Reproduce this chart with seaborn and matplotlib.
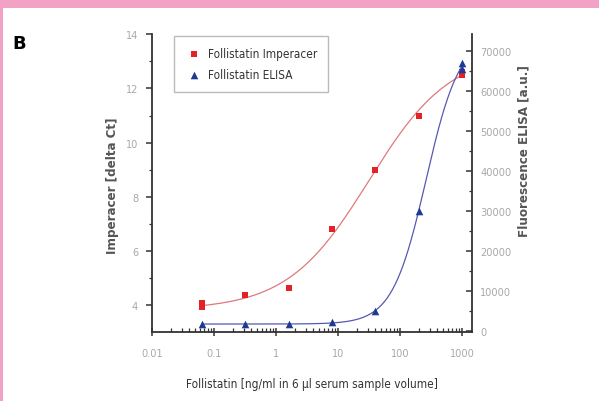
import numpy as np
import pandas as pd
import matplotlib
matplotlib.use("Agg")
import matplotlib.pyplot as plt
from matplotlib.patches import Rectangle
from matplotlib.ticker import FixedLocator, NullFormatter, LogLocator
import seaborn as sns

# ---- data ----
imp_conc = [0.064, 0.064, 0.32, 1.6, 8, 40, 200, 1000, 1000]
imp_delta_ct = [4.1, 3.95, 4.37, 4.62, 6.83, 9.0, 11.0, 12.6, 12.5]
elisa_conc = [0.064, 0.32, 1.6, 8, 40, 200, 1000, 1000]
elisa_fluor = [1700, 1650, 1750, 2300, 5000, 30000, 65500, 67000]
x_ticks = [0.01, 0.1, 1, 10, 100, 1000]
x_tick_labels = ["0.01", "0.1", "1", "10", "100", "1000"]
left_ticks = [4, 6, 8, 10, 12, 14]
right_ticks = [0, 10000, 20000, 30000, 40000, 50000, 60000, 70000]

sns.set_theme(style="white")
plt.rcParams['font.family'] = ['DejaVu Sans']
plt.rcParams['font.stretch'] = 'condensed'


def fit_4pl(x, y):
    """Least-squares four-parameter logistic fit (grid search + linear solve)."""
    x = np.asarray(x, float)
    y = np.asarray(y, float)
    best = None
    for lc in np.linspace(-1, 4, 251):
        for h in np.linspace(0.3, 4, 186):
            s = 1.0 / (1.0 + (10 ** lc / x) ** h)
            A = np.column_stack([1 - s, s])
            coef, *_ = np.linalg.lstsq(A, y, rcond=None)
            r = np.sum((A @ coef - y) ** 2)
            if best is None or r < best[0]:
                best = (r, lc, h, coef)
    _, lc, h, coef = best

    def f(xx):
        s = 1.0 / (1.0 + (10 ** lc / xx) ** h)
        return coef[0] * (1 - s) + coef[1] * s
    return f


xs = np.logspace(np.log10(0.064), np.log10(1000), 300)
f_imp = fit_4pl(imp_conc, imp_delta_ct)
f_eli = fit_4pl(elisa_conc, elisa_fluor)
curve_imp = pd.DataFrame({"x": xs, "y": f_imp(xs)})
curve_eli = pd.DataFrame({"x": xs, "y": f_eli(xs)})
df_imp = pd.DataFrame({"x": imp_conc, "y": imp_delta_ct})
df_eli = pd.DataFrame({"x": elisa_conc, "y": elisa_fluor})

fig = plt.figure(figsize=(5.99, 4.02), dpi=100)
fig.patch.set_facecolor("white")
pink = "#f2a2c4"
fig.add_artist(Rectangle((0, 1 - 9 / 402), 1, 9 / 402, transform=fig.transFigure,
                         facecolor=pink, edgecolor="none"))
fig.add_artist(Rectangle((0, 0), 3 / 599, 1, transform=fig.transFigure,
                         facecolor=pink, edgecolor="none"))
fig.text(12 / 599, 1 - 44 / 402, "B", fontsize=13, fontweight="bold",
         family="DejaVu Sans", stretch="normal", color="black", va="center", ha="left")

ax = fig.add_axes([152 / 599, 1 - 333.3 / 402, 320 / 599, 298 / 402])
ax2 = ax.twinx()

red = "#e32228"
blue = "#1f3a93"
sns.lineplot(data=curve_imp, x="x", y="y", ax=ax, color="#e0787c", lw=0.9, zorder=2)
sns.scatterplot(data=df_imp, x="x", y="y", ax=ax, marker="s", s=22, color=red,
                edgecolor=red, linewidth=0, zorder=3, label="Follistatin Imperacer")
sns.lineplot(data=curve_eli, x="x", y="y", ax=ax2, color="#5858b0", lw=0.9, zorder=2)
sns.scatterplot(data=df_eli, x="x", y="y", ax=ax2, marker="^", s=30, color=blue,
                edgecolor=blue, linewidth=0, zorder=3, label="Follistatin ELISA")

ax.set_xscale("log")
ax.set_xlim(0.01, 10 ** (3 + 10 / 62))
ax.set_ylim(3, 14)
ax2.set_ylim(-320, 74200)

tick_col = "#a8a8a8"
lab_col = "#555555"
ax.set_xticks(x_ticks)
ax.set_xticklabels(x_tick_labels)
ax.xaxis.set_minor_locator(LogLocator(base=10, subs=np.arange(2, 10)))
ax.xaxis.set_minor_formatter(NullFormatter())
ax.set_yticks(left_ticks)
ax.set_yticklabels([str(v) for v in left_ticks])
ax.yaxis.set_minor_locator(FixedLocator([5, 7, 9, 11, 13]))
ax2.set_yticks(right_ticks)
ax2.set_yticklabels([str(v) for v in right_ticks])
ax2.yaxis.set_minor_locator(FixedLocator(np.arange(5000, 75000, 10000)))

for a in (ax, ax2):
    for s in a.spines.values():
        s.set_color("#333333")
        s.set_linewidth(1.3)
    a.spines["top"].set_visible(False)
ax.spines["right"].set_visible(False)
ax2.spines["left"].set_visible(False)
ax2.spines["bottom"].set_visible(False)

ax.tick_params(axis="x", which="major", direction="inout", length=6, width=1.1,
               color="#333333", labelcolor=tick_col, labelsize=7.8, pad=8, bottom=True)
ax.tick_params(axis="x", which="minor", direction="in", length=3, width=0.9,
               color="#333333", bottom=True)
ax.tick_params(axis="y", which="major", direction="out", length=4, width=1.1,
               color="#333333", labelcolor=tick_col, labelsize=7.8, pad=6, left=True)
ax.tick_params(axis="y", which="minor", direction="out", length=2, width=0.9,
               color="#333333", left=True)
ax2.tick_params(axis="y", which="major", direction="in", length=4, width=1.1,
                color="#333333", labelcolor=tick_col, labelsize=7.8, pad=6, right=True)
ax2.tick_params(axis="y", which="minor", direction="in", length=2, width=0.9,
                color="#333333", right=True)

ax.set_xlabel("Follistatin [ng/ml in 6 µl serum sample volume]", fontsize=8.5,
              color="#333333")
ax.set_ylabel("Imperacer [delta Ct]", fontsize=9.5, fontweight="bold",
              color=lab_col)
ax2.set_ylabel("Fluorescence ELISA [a.u.]", fontsize=9.5, fontweight="bold",
               color=lab_col, rotation=90)
ax.yaxis.set_label_coords(-33 / 320, 0.494)
ax2.yaxis.set_label_coords(1 + 45 / 320, 0.61)
ax.xaxis.set_label_coords(0.5, -45 / 298)

h1, l1 = ax.get_legend_handles_labels()
h2, l2 = ax2.get_legend_handles_labels()
if ax2.get_legend():
    ax2.get_legend().remove()
leg = ax.legend(h1 + h2, l1 + l2, loc="upper left", bbox_to_anchor=(22 / 320, 0.994),
                borderaxespad=0, frameon=True, fancybox=False, fontsize=8.5,
                handletextpad=0.4, handlelength=1.6, borderpad=0.9, labelspacing=0.7)
leg.get_frame().set_edgecolor("#aaaaaa")
leg.get_frame().set_linewidth(1.0)
for t in leg.get_texts():
    t.set_color("#333333")

fig.savefig("out.png", dpi=100)
